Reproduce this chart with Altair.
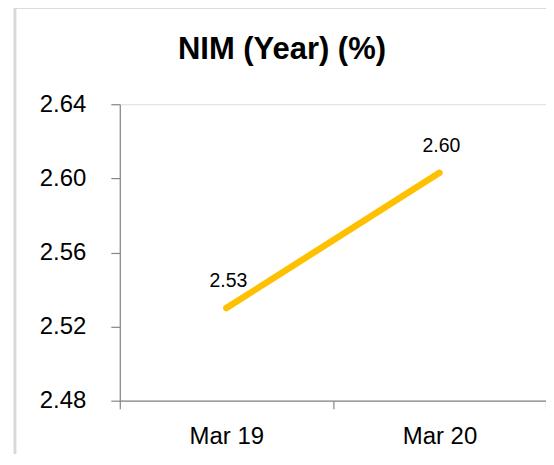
import altair as alt
import pandas as pd

periods = ["Mar 19", "Mar 20"]
nim = [2.53, 2.603]
labels = ["2.53", "2.60"]
title_text = ["NIM (Year) (%)"]

df = pd.DataFrame({"period": periods, "nim": nim, "label": labels})
df_title = pd.DataFrame({"t": title_text})

FONT = "Liberation Sans"
AXIS_GRAY = "#868686"

x_enc = alt.X(
    "period:N",
    sort=periods,
    scale=alt.Scale(paddingInner=0, paddingOuter=0),
    axis=alt.Axis(
        title=None, labelAngle=0, tickBand="extent", tickSize=8,
        labelPadding=16, labelFontSize=24, labelColor="#000000",
        labelFont=FONT, domainColor=AXIS_GRAY, tickColor=AXIS_GRAY,
        domainWidth=1.2, tickWidth=1.2,
    ),
)
y_enc = alt.Y(
    "nim:Q",
    scale=alt.Scale(domain=[2.48, 2.64], nice=False, zero=False),
    axis=alt.Axis(
        title=None, values=[2.48, 2.52, 2.56, 2.60, 2.64], format=".2f",
        grid=False, tickSize=9, labelPadding=25, labelFontSize=24,
        labelColor="#000000", labelFont=FONT, domainColor=AXIS_GRAY,
        tickColor=AXIS_GRAY, domainWidth=1.2, tickWidth=1.2,
    ),
)

border = alt.Chart(df).mark_rect(
    fill=None, stroke="#d9d9d9", strokeWidth=2.5, clip=False
).encode(
    x=alt.value(-105), x2=alt.value(600), y=alt.value(-97), y2=alt.value(500)
)

title = alt.Chart(df_title).mark_text(
    fontSize=31, font=FONT, fontWeight="bold", color="#000000",
    baseline="alphabetic", align="center", clip=False
).encode(x=alt.value(162.5), y=alt.value(-45), text="t:N")

line = alt.Chart(df).mark_line(
    color="#FFC000", strokeWidth=6.5, strokeCap="round"
).encode(x=x_enc, y=y_enc)

text = alt.Chart(df).mark_text(
    dy=-27, dx=2, fontSize=19.5, font=FONT, color="#000000", baseline="middle"
).encode(x=alt.X("period:N", sort=periods), y="nim:Q", text="label:N")

chart = alt.layer(border, title, line, text).properties(
    width=427,
    height=297,
    autosize=alt.AutoSizeParams(type="none"),
    padding={"left": 112, "top": 96, "right": 0, "bottom": 53},
).configure_view(stroke=None).configure(background="white")

chart.save("out.html", embed_options={"renderer": "svg", "actions": False})
